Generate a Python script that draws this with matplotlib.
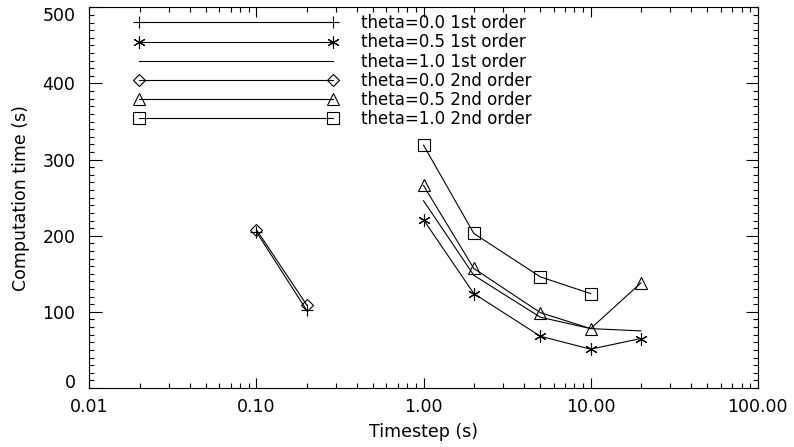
import matplotlib
matplotlib.use('Agg')
import matplotlib.pyplot as plt
from matplotlib.ticker import MultipleLocator, LogLocator, NullFormatter, FixedLocator, FixedFormatter

# ---- data ----
x_small = [0.1, 0.2]
x_large = [1, 2, 5, 10, 20]
x_large4 = [1, 2, 5, 10]

th00_1st = [205, 102]
th05_1st = [221, 124, 68, 51, 65]
th10_1st = [246, 148, 93, 78, 75]
th00_2nd = [208, 109]
th05_2nd = [266, 157, 99, 78, 138]
th10_2nd = [319, 203, 146, 124]

labels = ['theta=0.0 1st order', 'theta=0.5 1st order', 'theta=1.0 1st order',
          'theta=0.0 2nd order', 'theta=0.5 2nd order', 'theta=1.0 2nd order']

xticks = [0.01, 0.1, 1, 10, 100]
xticklabels = ['0.01', '0.10', '1.00', '10.00', '100.00']
yticks = [0, 100, 200, 300, 400, 500]
yticklabels = ['0', '100', '200', '300', '400', '500']

plt.rcParams['font.family'] = ['DejaVu Sans']
fig = plt.figure(figsize=(7.94, 4.47), dpi=100)
ax = fig.add_axes([0.1125, 0.1320, 0.8418, 0.8516])

lw = 0.8
common = dict(color='black', lw=lw, mew=lw)
h1, = ax.plot(x_small, th00_1st, marker='+', ms=9, **common)
h2, = ax.plot(x_large, th05_1st, marker=(6, 2, 0), ms=9, **common)
h3, = ax.plot(x_large, th10_1st, **common)
h4, = ax.plot(x_small, th00_2nd, marker='D', ms=6, mfc='none', **common)
h5, = ax.plot(x_large, th05_2nd, marker='^', ms=9, mfc='none', **common)
h6, = ax.plot(x_large4, th10_2nd, marker='s', ms=8.5, mfc='none', **common)

ax.set_xscale('log')
ax.set_xlim(0.01, 100)
ax.set_ylim(0, 500)
ax.xaxis.set_major_locator(FixedLocator(xticks))
ax.xaxis.set_major_formatter(FixedFormatter(xticklabels))
ax.xaxis.set_minor_locator(LogLocator(base=10, subs=range(2, 10)))
ax.xaxis.set_minor_formatter(NullFormatter())
ax.yaxis.set_major_locator(FixedLocator(yticks))
ax.yaxis.set_major_formatter(FixedFormatter(yticklabels))
ax.yaxis.set_minor_locator(MultipleLocator(10))

ax.tick_params(which='both', direction='in', top=True, right=True, width=lw, colors='black')
ax.tick_params(axis='x', which='major', length=7, pad=7, labelsize=12.5)
ax.tick_params(axis='x', which='minor', length=3.5)
ax.tick_params(axis='y', which='major', length=9, pad=10, labelsize=12.5)
ax.tick_params(axis='y', which='minor', length=3.5)
for s in ax.spines.values():
    s.set_linewidth(lw)

ax.set_xlabel('Timestep (s)', fontsize=12.5, labelpad=5)
ax.set_ylabel('Computation time (s)', fontsize=12.5, labelpad=9)

leg = ax.legend([h1, h2, h3, h4, h5, h6], labels, loc='upper left',
                bbox_to_anchor=(0.0675, 0.982), numpoints=2, handlelength=12.2,
                handletextpad=1.42, labelspacing=0.07, borderpad=0, borderaxespad=0,
                frameon=False, fontsize=12)

fig.canvas.draw()
yt = ax.yaxis.get_major_ticks()
yt[0].label1.set_va('baseline')
yt[-1].label1.set_va('top')

fig.savefig('out.png', dpi=100)
